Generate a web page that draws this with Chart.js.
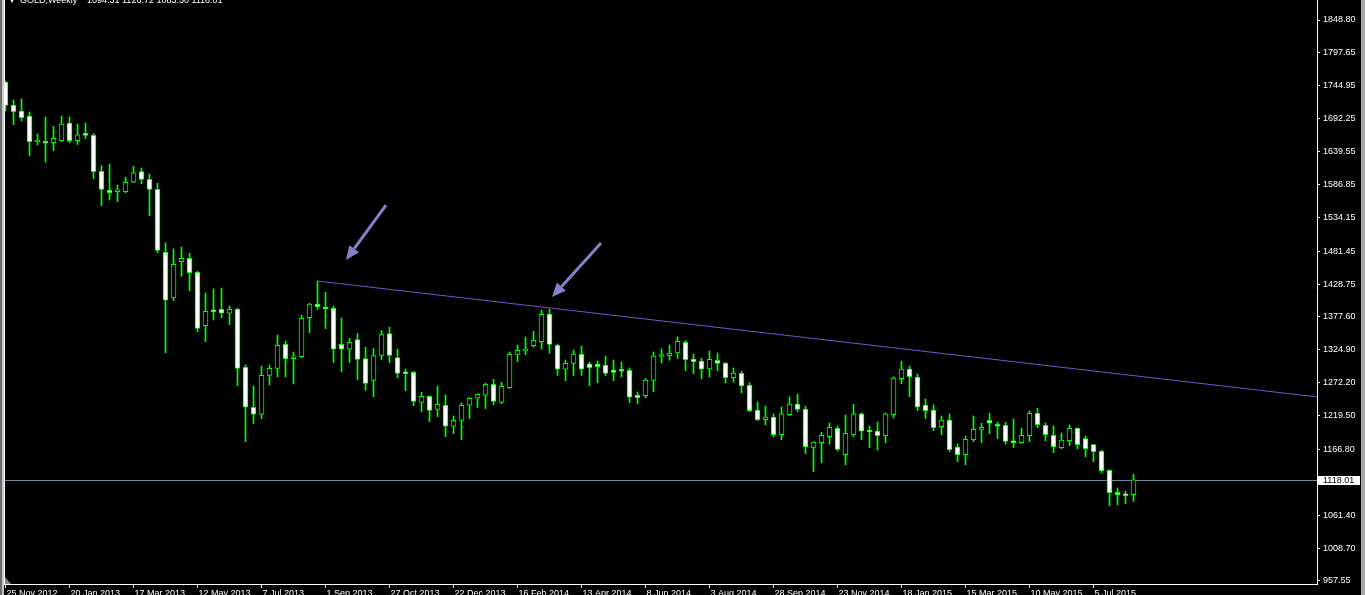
<!DOCTYPE html>
<html>
<head>
<meta charset="utf-8">
<title>GOLD,Weekly</title>
<script src="https://cdn.jsdelivr.net/npm/chart.js@4.4.1/dist/chart.umd.min.js"></script>
<style>
    html, body { margin: 0; padding: 0; background: #000; overflow: hidden; }
    canvas { display: block; }
</style>
</head>
<body>
<canvas id="goldChart" width="1365" height="595"></canvas>
<script>
'use strict';

var symbolName = 'GOLD,Weekly';

// weekly candles, 25 Nov 2012 .. 9 Aug 2015
var openPrices = [
    1750.3, 1713.7, 1704.2, 1696.2, 1655.0, 1656.0, 1653.8, 1657.0, 1685.1, 1657.0,
    1668.5, 1665.6, 1608.4, 1578.0, 1576.0, 1575.8, 1591.1, 1607.7, 1595.6, 1579.7,
    1479.6, 1407.0, 1464.6, 1469.9, 1447.8, 1362.9, 1388.0, 1389.0, 1382.7, 1389.0,
    1296.9, 1233.2, 1222.1, 1283.8, 1294.8, 1333.3, 1310.5, 1313.7, 1375.6, 1397.4,
    1392.5, 1390.6, 1333.3, 1325.4, 1341.0, 1310.8, 1275.9, 1315.5, 1350.4, 1312.3,
    1289.5, 1288.8, 1241.1, 1250.6, 1230.0, 1236.4, 1203.0, 1212.5, 1236.4, 1247.5,
    1252.3, 1269.8, 1241.1, 1264.4, 1317.4, 1323.0, 1331.1, 1337.5, 1381.5, 1331.8,
    1293.8, 1303.1, 1317.4, 1302.2, 1301.7, 1300.1, 1292.5, 1293.5, 1292.0, 1252.3,
    1251.7, 1276.1, 1314.0, 1315.2, 1319.5, 1336.5, 1310.0, 1306.8, 1294.1, 1307.9,
    1303.6, 1280.2, 1287.2, 1268.2, 1228.9, 1213.5, 1217.8, 1189.7, 1221.4, 1238.4,
    1230.5, 1169.6, 1176.9, 1186.5, 1199.8, 1157.9, 1189.2, 1222.6, 1197.0, 1195.5,
    1188.1, 1221.4, 1278.7, 1294.1, 1281.3, 1236.9, 1228.9, 1202.4, 1213.0, 1170.1,
    1157.9, 1181.7, 1198.2, 1212.5, 1206.2, 1204.6, 1180.0, 1176.9, 1188.1, 1223.7,
    1204.6, 1188.7, 1169.0, 1180.1, 1199.8, 1183.3, 1173.8, 1163.2, 1133.1, 1098.1,
    1095.8, 1094.31
];
var highPrices = [
    1751.9, 1721.7, 1723.2, 1702.6, 1667.6, 1694.6, 1679.6, 1696.2, 1694.6, 1683.5,
    1685.1, 1668.4, 1617.3, 1620.0, 1586.5, 1599.2, 1616.2, 1613.6, 1604.0, 1589.2,
    1494.4, 1485.0, 1487.9, 1478.1, 1449.5, 1414.9, 1421.2, 1422.8, 1394.2, 1390.6,
    1300.6, 1266.9, 1298.8, 1300.6, 1348.1, 1338.6, 1321.0, 1379.4, 1398.5, 1433.9,
    1416.0, 1394.2, 1375.1, 1342.9, 1350.6, 1328.7, 1326.6, 1355.2, 1360.5, 1325.5,
    1294.1, 1290.4, 1257.0, 1251.5, 1266.9, 1252.7, 1219.4, 1240.0, 1248.5, 1254.3,
    1271.4, 1277.7, 1272.9, 1321.1, 1332.2, 1345.0, 1354.0, 1387.9, 1389.0, 1333.8,
    1308.4, 1324.3, 1330.6, 1305.3, 1306.8, 1314.7, 1308.4, 1305.3, 1295.7, 1257.5,
    1278.7, 1321.1, 1325.9, 1332.2, 1345.0, 1339.1, 1317.9, 1311.1, 1322.7, 1319.5,
    1304.5, 1295.7, 1290.4, 1272.3, 1241.6, 1235.3, 1222.6, 1233.7, 1249.6, 1254.3,
    1234.8, 1178.5, 1193.4, 1208.2, 1203.5, 1220.9, 1238.0, 1224.2, 1203.5, 1209.8,
    1224.2, 1281.4, 1306.8, 1298.8, 1286.1, 1246.4, 1236.9, 1219.4, 1222.6, 1175.3,
    1187.6, 1219.4, 1207.8, 1223.7, 1209.4, 1209.4, 1214.6, 1200.3, 1227.3, 1231.6,
    1208.2, 1203.5, 1192.3, 1205.1, 1200.5, 1187.1, 1174.4, 1164.9, 1133.8, 1104.9,
    1100.1, 1126.72
];
var lowPrices = [
    1704.6, 1682.4, 1688.2, 1633.2, 1650.1, 1622.7, 1641.4, 1656.0, 1653.8, 1650.9,
    1660.2, 1596.6, 1553.6, 1562.7, 1560.0, 1574.2, 1590.0, 1588.4, 1537.6, 1478.9,
    1319.9, 1402.6, 1441.3, 1418.5, 1353.4, 1337.5, 1372.0, 1375.6, 1364.6, 1267.2,
    1178.5, 1207.4, 1215.0, 1268.8, 1281.5, 1281.5, 1270.4, 1312.0, 1352.0, 1389.0,
    1358.3, 1304.3, 1289.5, 1304.3, 1277.4, 1260.2, 1250.0, 1309.2, 1304.3, 1279.9,
    1259.6, 1235.7, 1226.2, 1210.2, 1218.4, 1186.5, 1191.2, 1181.7, 1215.3, 1232.8,
    1231.2, 1237.3, 1239.0, 1263.0, 1305.9, 1316.8, 1328.6, 1325.9, 1319.0, 1283.8,
    1275.5, 1283.4, 1283.8, 1267.2, 1272.3, 1283.4, 1275.5, 1281.3, 1240.5, 1238.9,
    1248.5, 1258.0, 1303.6, 1307.9, 1311.1, 1291.4, 1286.6, 1278.7, 1281.3, 1291.4,
    1271.8, 1273.4, 1256.4, 1226.2, 1212.0, 1205.5, 1186.5, 1181.7, 1220.0, 1226.2,
    1159.5, 1130.8, 1145.1, 1174.4, 1163.7, 1141.9, 1186.5, 1181.7, 1169.0, 1165.3,
    1176.9, 1216.2, 1270.7, 1250.0, 1227.8, 1215.3, 1196.0, 1189.7, 1162.6, 1146.7,
    1141.9, 1178.5, 1176.9, 1191.3, 1183.3, 1174.4, 1169.0, 1176.0, 1178.5, 1200.8,
    1180.1, 1161.1, 1167.4, 1172.2, 1167.4, 1154.7, 1146.7, 1129.2, 1076.8, 1078.4,
    1080.0, 1083.50
];
var closePrices = [
    1713.2, 1703.1, 1693.5, 1655.4, 1658.0, 1653.0, 1660.8, 1683.5, 1657.0, 1666.1,
    1665.5, 1607.7, 1579.6, 1574.2, 1579.0, 1590.8, 1606.0, 1595.5, 1579.7, 1482.7,
    1403.3, 1460.5, 1469.9, 1447.1, 1358.7, 1385.8, 1385.0, 1382.7, 1389.0, 1294.8,
    1233.2, 1222.1, 1283.8, 1295.0, 1331.8, 1310.5, 1313.5, 1374.6, 1397.4, 1393.1,
    1389.5, 1325.4, 1325.4, 1336.5, 1309.2, 1271.1, 1315.5, 1348.9, 1315.5, 1286.9,
    1286.5, 1242.7, 1250.6, 1228.4, 1237.9, 1203.0, 1212.5, 1236.4, 1247.5, 1253.9,
    1269.8, 1242.7, 1266.6, 1317.4, 1323.8, 1326.0, 1339.7, 1381.0, 1333.3, 1293.8,
    1303.1, 1317.9, 1293.8, 1296.3, 1297.8, 1286.9, 1288.8, 1290.5, 1249.1, 1248.5,
    1276.6, 1314.7, 1317.0, 1319.0, 1338.1, 1308.9, 1305.7, 1293.6, 1309.5, 1303.1,
    1280.2, 1287.7, 1267.2, 1227.8, 1213.5, 1217.8, 1189.7, 1222.6, 1238.4, 1230.0,
    1170.6, 1178.0, 1188.7, 1201.4, 1166.4, 1191.9, 1222.6, 1195.1, 1194.0, 1188.1,
    1222.6, 1279.8, 1294.1, 1281.8, 1233.2, 1227.8, 1200.8, 1213.0, 1165.8, 1157.9,
    1182.3, 1198.2, 1201.4, 1207.8, 1203.0, 1179.1, 1177.0, 1188.7, 1223.7, 1205.6,
    1189.7, 1170.6, 1181.2, 1199.8, 1173.8, 1167.4, 1162.6, 1132.4, 1097.5, 1094.3,
    1092.8, 1118.01
];

var dateTickIndex = [0, 8, 16, 24, 32, 40, 48, 56, 64, 72, 80, 88, 96, 104, 112, 120, 128, 136];
var dateTickLabels = [
    '25 Nov 2012', '20 Jan 2013', '17 Mar 2013', '12 May 2013', '7 Jul 2013', '1 Sep 2013',
    '27 Oct 2013', '22 Dec 2013', '16 Feb 2014', '13 Apr 2014', '8 Jun 2014', '3 Aug 2014',
    '28 Sep 2014', '23 Nov 2014', '18 Jan 2015', '15 Mar 2015', '10 May 2015', '5 Jul 2015'
];
var priceTicks = [
    1848.80, 1797.65, 1744.95, 1692.25, 1639.55, 1586.85, 1534.15, 1481.45, 1428.75,
    1377.60, 1324.90, 1272.20, 1219.50, 1166.80, 1061.40, 1008.70, 957.55
];

// drawing objects (bar index, price)
var trendLine = [{ x: 39, y: 1433.9 }, { x: 164, y: 1249.6 }];
var arrowTails = [{ x: 47.56, y: 1554.7 }, { x: 74.44, y: 1494.3 }];
var arrowHeads = [{ x: 42.56, y: 1467.3 }, { x: 68.31, y: 1408.5 }];

var GREEN = '#00ff00';
var last = closePrices.length - 1;

function fmt(v) { return v.toFixed(2); }

var bodies = openPrices.map(function (o, i) { return { x: i, y: [o, closePrices[i]] }; });
var wicks = lowPrices.map(function (l, i) { return { x: i, y: [l, highPrices[i]] }; });
var bodyColors = bodies.map(function (b) { return b.y[1] < b.y[0] ? '#ffffff' : '#000000'; });

function drawArrow(ctx, x1, y1, x2, y2) {
    var ang = Math.atan2(y2 - y1, x2 - x1);
    var len = 14, half = 6;
    var bx = x2 - len * Math.cos(ang), by = y2 - len * Math.sin(ang);
    ctx.beginPath();
    ctx.moveTo(x1, y1);
    ctx.lineTo(bx, by);
    ctx.stroke();
    ctx.beginPath();
    ctx.moveTo(x2, y2);
    ctx.lineTo(bx + half * Math.sin(ang), by - half * Math.cos(ang));
    ctx.lineTo(bx - half * Math.sin(ang), by + half * Math.cos(ang));
    ctx.closePath();
    ctx.fill();
}

var terminalLook = {
    id: 'terminalLook',
    beforeDatasetsDraw: function (chart) {
        var ctx = chart.ctx, area = chart.chartArea;
        var y = Math.round(chart.scales.y.getPixelForValue(closePrices[last])) + 0.5;
        ctx.save();
        ctx.strokeStyle = '#778899';
        ctx.lineWidth = 1;
        ctx.beginPath();
        ctx.moveTo(area.left, y);
        ctx.lineTo(area.right, y);
        ctx.stroke();
        ctx.restore();
    },
    afterDatasetsDraw: function (chart) {
        var ctx = chart.ctx, xs = chart.scales.x, ys = chart.scales.y;
        ctx.save();
        ctx.strokeStyle = '#8282cc';
        ctx.fillStyle = '#8282cc';
        ctx.lineWidth = 3;
        arrowTails.forEach(function (t, i) {
            var h = arrowHeads[i];
            drawArrow(ctx, xs.getPixelForValue(t.x), ys.getPixelForValue(t.y),
                xs.getPixelForValue(h.x), ys.getPixelForValue(h.y));
        });
        ctx.restore();
    },
    afterDraw: function (chart) {
        var ctx = chart.ctx, area = chart.chartArea;
        ctx.save();
        // window frame
        ctx.fillStyle = '#6e6e6e';
        ctx.fillRect(0, 0, 2, chart.height);
        ctx.fillStyle = '#c8c8c8';
        ctx.fillRect(2, 0, 2, chart.height);
        ctx.fillStyle = '#ffffff';
        ctx.fillRect(4, 0, 1, area.bottom + 1);
        ctx.fillStyle = '#a8a8a8';
        ctx.fillRect(1361, 0, 4, chart.height);

        // shift marker
        ctx.fillStyle = '#7a8a9a';
        ctx.beginPath();
        ctx.moveTo(5, area.bottom - 7);
        ctx.lineTo(5, area.bottom);
        ctx.lineTo(11, area.bottom);
        ctx.closePath();
        ctx.fill();

        // header
        ctx.fillStyle = '#ffffff';
        ctx.beginPath();
        ctx.moveTo(9, -3);
        ctx.lineTo(15, -3);
        ctx.lineTo(12, 3);
        ctx.closePath();
        ctx.fill();
        ctx.font = '9px "Liberation Sans", Arial, sans-serif';
        ctx.textBaseline = 'alphabetic';
        ctx.textAlign = 'left';
        ctx.fillText(symbolName, 20, 3);
        ctx.fillText([openPrices[last], highPrices[last], lowPrices[last], closePrices[last]].map(fmt).join(' '), 87, 3);

        // bid label
        var y = Math.round(chart.scales.y.getPixelForValue(closePrices[last]));
        ctx.fillStyle = '#ffffff';
        ctx.fillRect(area.right + 1, y - 4, 42, 9);
        ctx.fillStyle = '#000000';
        ctx.textBaseline = 'middle';
        ctx.fillText(fmt(closePrices[last]), area.right + 6, y + 0.5);
        ctx.restore();
    }
};

Chart.defaults.font.family = '"Liberation Sans", Arial, sans-serif';
Chart.defaults.font.size = 9;
Chart.defaults.color = '#ffffff';

var ctx = document.getElementById('goldChart').getContext('2d');
var chart = new Chart(ctx, {
    type: 'bar',
    data: {
        datasets: [{
            type: 'line',
            data: trendLine,
            borderColor: '#6a5acd',
            borderWidth: 1,
            pointRadius: 0,
            order: 0
        }, {
            data: bodies,
            backgroundColor: bodyColors,
            borderColor: GREEN,
            borderWidth: 1,
            borderSkipped: false,
            barThickness: 5,
            grouped: false,
            order: 1
        }, {
            data: wicks,
            backgroundColor: GREEN,
            borderWidth: 0,
            barThickness: 1,
            grouped: false,
            order: 2
        }]
    },
    options: {
        responsive: false,
        animation: false,
        devicePixelRatio: 1,
        layout: { padding: { left: 5, top: 0, right: 0, bottom: 0 } },
        plugins: { legend: { display: false }, tooltip: { enabled: false } },
        scales: {
            x: {
                type: 'linear',
                min: -0.0625,
                max: 163.9375,
                offset: false,
                grid: { drawOnChartArea: false, drawTicks: true, tickLength: 4, color: '#ffffff', offset: false },
                border: { display: true, color: '#ffffff', width: 1 },
                ticks: {
                    color: '#ffffff', autoSkip: false, maxRotation: 0, align: 'start', padding: 0, labelOffset: 1,
                    callback: function (value, index) { return dateTickLabels[index]; }
                },
                afterBuildTicks: function (scale) {
                    scale.ticks = dateTickIndex.map(function (v) { return { value: v }; });
                },
                afterFit: function (scale) {
                    scale.height = 11;
                    scale.paddingLeft = 0;
                    scale.paddingRight = 0;
                }
            },
            y: {
                position: 'right',
                min: 952.3,
                max: 1880.6,
                beginAtZero: false,
                grid: { drawOnChartArea: false, drawTicks: true, tickLength: 3, color: '#ffffff' },
                border: { display: true, color: '#ffffff', width: 1 },
                ticks: {
                    color: '#ffffff', autoSkip: false, padding: 3,
                    callback: function (value) { return fmt(value); }
                },
                afterBuildTicks: function (scale) {
                    scale.ticks = priceTicks.map(function (v) { return { value: v }; });
                },
                afterFit: function (scale) {
                    scale.width = 48;
                    scale.paddingTop = 0;
                    scale.paddingBottom = 0;
                }
            }
        }
    },
    plugins: [terminalLook]
});
</script>
</body>
</html>
